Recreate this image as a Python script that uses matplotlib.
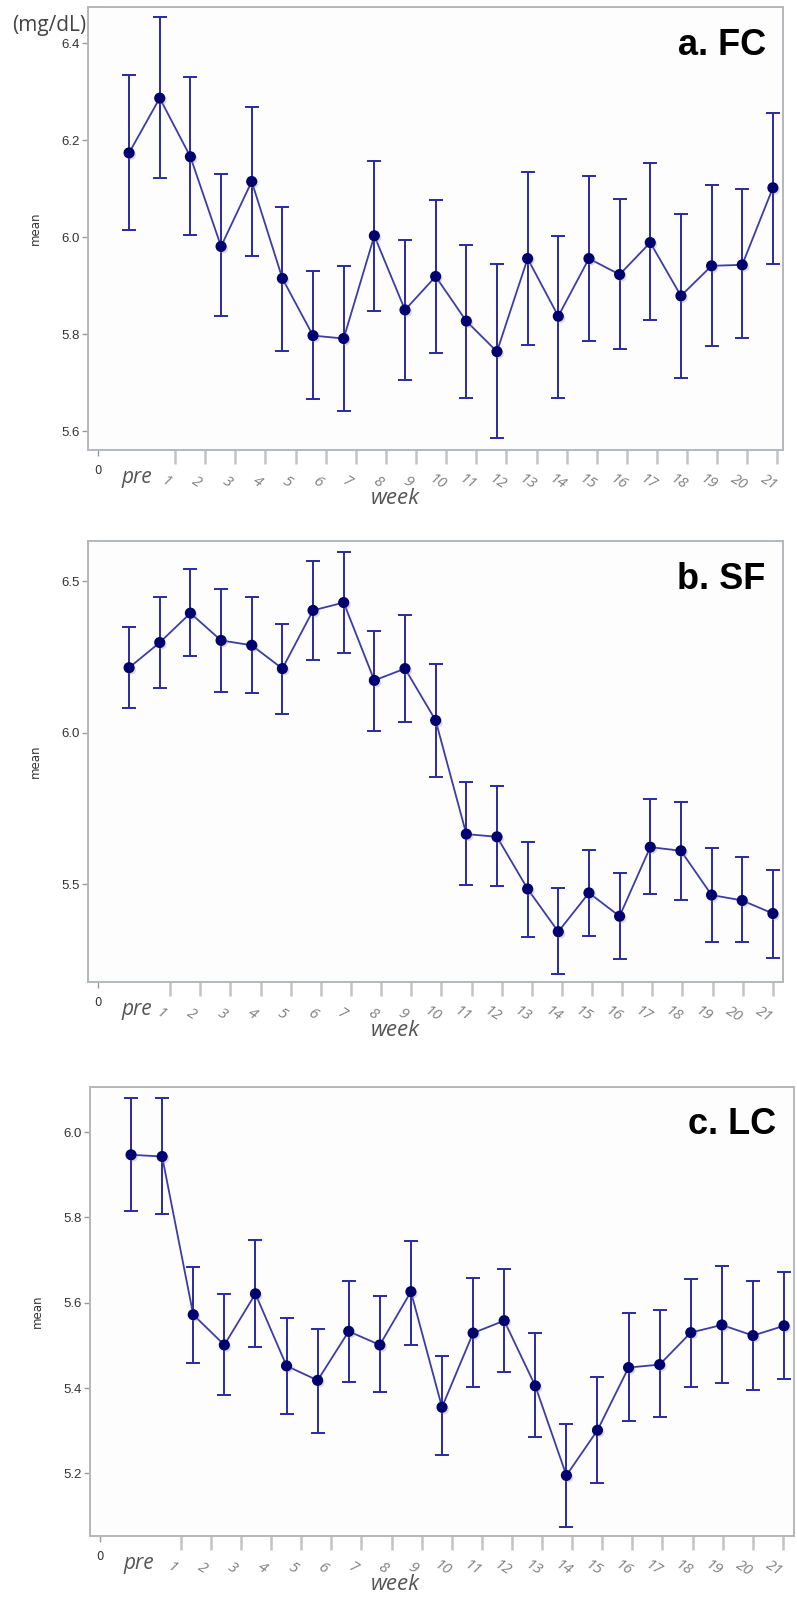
import numpy as np
import matplotlib
matplotlib.use("Agg")
import matplotlib.pyplot as plt
import matplotlib.patheffects as pe
from matplotlib.transforms import blended_transform_factory

# ---------------- data ----------------
categories = ["pre"] + [str(i) for i in range(1, 22)]

fc_mean = [6.174, 6.287, 6.166, 5.981, 6.115, 5.915, 5.797, 5.791, 6.003, 5.850, 5.919,
           5.827, 5.764, 5.956, 5.837, 5.956, 5.923, 5.989, 5.879, 5.941, 5.943, 6.102]
fc_upper = [6.335, 6.454, 6.330, 6.130, 6.268, 6.062, 5.930, 5.941, 6.158, 5.995, 6.077,
            5.984, 5.945, 6.134, 6.003, 6.126, 6.078, 6.153, 6.048, 6.108, 6.100, 6.257]
fc_lower = [6.014, 6.123, 6.005, 5.838, 5.962, 5.765, 5.666, 5.642, 5.848, 5.706, 5.762,
            5.669, 5.586, 5.778, 5.669, 5.786, 5.769, 5.829, 5.709, 5.775, 5.792, 5.944]

sf_mean = [6.214, 6.297, 6.394, 6.304, 6.288, 6.211, 6.403, 6.429, 6.172, 6.211, 6.040,
           5.665, 5.656, 5.484, 5.343, 5.471, 5.394, 5.622, 5.610, 5.464, 5.446, 5.403]
sf_upper = [6.348, 6.447, 6.541, 6.472, 6.447, 6.357, 6.567, 6.597, 6.334, 6.387, 6.227,
            5.836, 5.824, 5.639, 5.486, 5.612, 5.535, 5.780, 5.771, 5.618, 5.588, 5.546]
sf_lower = [6.082, 6.146, 6.254, 6.134, 6.130, 6.060, 6.241, 6.262, 6.005, 6.035, 5.852,
            5.498, 5.493, 5.326, 5.205, 5.329, 5.253, 5.467, 5.447, 5.309, 5.309, 5.257]

lc_mean = [5.947, 5.943, 5.572, 5.501, 5.621, 5.452, 5.418, 5.533, 5.501, 5.626, 5.355,
           5.529, 5.558, 5.405, 5.195, 5.301, 5.448, 5.455, 5.530, 5.548, 5.523, 5.546]
lc_upper = [6.080, 6.080, 5.683, 5.621, 5.748, 5.565, 5.539, 5.650, 5.615, 5.745, 5.474,
            5.659, 5.680, 5.529, 5.315, 5.427, 5.577, 5.584, 5.655, 5.687, 5.652, 5.672]
lc_lower = [5.816, 5.807, 5.458, 5.384, 5.496, 5.338, 5.294, 5.415, 5.390, 5.501, 5.242,
            5.402, 5.437, 5.285, 5.074, 5.177, 5.323, 5.331, 5.402, 5.412, 5.396, 5.422]

panel_titles = ["a. FC", "b. SF", "c. LC"]
fc_yticks = [5.6, 5.8, 6.0, 6.2, 6.4]
sf_yticks = [5.5, 6.0, 6.5]
lc_yticks = [5.2, 5.4, 5.6, 5.8, 6.0]
week_labels = [str(i) for i in range(1, 22)]

# ---------------- style ----------------
W, H = 797, 1597
fig = plt.figure(figsize=(W / 100, H / 100), dpi=100)
fig.patch.set_facecolor("white")

LINE_C = "#3c3ca6"
ERR_C = "#2a2aa0"
MARK_C = "#00006e"
SPINE_C = "#b4b8bc"

panels = [
    dict(box=(88, 7, 783, 450), mean=fc_mean, up=fc_upper, lo=fc_lower,
         ylim=(5.561, 6.475), yticks=fc_yticks,
         xlim=(-1.34, 21.33), wticks=(1.5, 21.15), title=panel_titles[0]),
    dict(box=(88, 541, 783, 982), mean=sf_mean, up=sf_upper, lo=sf_lower,
         ylim=(5.177, 6.632), yticks=sf_yticks,
         xlim=(-1.34, 21.33), wticks=(1.34, 21.0), title=panel_titles[1]),
    dict(box=(90, 1087, 794, 1536), mean=lc_mean, up=lc_upper, lo=lc_lower,
         ylim=(5.053, 6.106), yticks=lc_yticks,
         xlim=(-1.32, 21.32), wticks=(1.6, 20.96), title=panel_titles[2]),
]

x = np.arange(len(categories))

for p in panels:
    l, t, r, b = p["box"]
    ax = fig.add_axes([l / W, 1 - b / H, (r - l) / W, (b - t) / H])
    ax.set_facecolor("#fdfdfd")
    mean = np.array(p["mean"])
    up = np.array(p["up"])
    lo = np.array(p["lo"])

    ax.errorbar(x, mean, yerr=[mean - lo, up - mean], fmt="none", ecolor=ERR_C,
                elinewidth=1.4, capsize=5, capthick=1.4, zorder=2)
    ax.plot(x, mean, "-", color=LINE_C, lw=1.3, zorder=3)
    ax.plot(x, mean, "o", color=MARK_C, ms=7, mec=MARK_C, zorder=4,
            path_effects=[pe.SimplePatchShadow(offset=(1.5, -1.5), shadow_rgbFace="#999999", alpha=0.35),
                          pe.Normal()])

    ax.set_xlim(*p["xlim"])
    ax.set_ylim(*p["ylim"])

    # y axis
    ax.set_yticks(p["yticks"])
    ax.set_yticklabels(["{:.1f}".format(v) for v in p["yticks"]],
                       fontsize=9.5, color="#333333",
                       family=["Liberation Sans Narrow", "Liberation Sans", "DejaVu Sans"])
    ax.tick_params(axis="y", direction="out", length=4, width=1, color="#999999", pad=2)
    ax.set_ylabel("mean", fontsize=8.5, color="#333333", labelpad=14)

    for s in ax.spines.values():
        s.set_color(SPINE_C)
        s.set_linewidth(1.4)

    # x axis: week ticks (labels drawn as text so they can sit left of the marks)
    wt = np.linspace(p["wticks"][0], p["wticks"][1], len(week_labels))
    ax.set_xticks(wt)
    ax.set_xticklabels([])
    ax.tick_params(axis="x", direction="out", length=10, width=1.8, color="#c4c4c4", pad=2)
    ax.set_xticks([-1], minor=True)
    ax.set_xticklabels(["0"], minor=True, fontsize=8.5, color="#333333")
    ax.tick_params(axis="x", which="minor", direction="out", length=4, width=1, color="#999999", pad=6)

    trans = blended_transform_factory(ax.transData, ax.transAxes)
    lab_y = -32 / (b - t)
    for xi, lab in zip(wt, week_labels):
        ax.text(xi - 0.28, lab_y, lab, transform=trans, ha="center", va="center",
                rotation=-32, fontsize=11, color="#808080", fontstyle="italic",
                family=["Open Sans", "DejaVu Sans"])

    ax.text(0.25, -27 / (b - t), "pre", transform=trans, ha="center", va="center",
            fontsize=15, fontstyle="italic", color="#555555", family=["Open Sans", "DejaVu Sans"])
    ax.text((395 - l) / (r - l), -48 / (b - t), "week", transform=ax.transAxes, ha="center", va="center",
            fontsize=16, fontstyle="italic", color="#555555", family=["Open Sans", "DejaVu Sans"])

    ax.text(0.975, 1 - 38 / (b - t), p["title"], transform=ax.transAxes, ha="right", va="center",
            fontsize=26, fontweight="bold", color="black", family=["Liberation Sans", "DejaVu Sans"])

fig.text(12 / W, 1 - 25 / H, "(mg/dL)", ha="left", va="center", fontsize=15,
         color="#444444", family=["Open Sans", "DejaVu Sans"])

fig.savefig("out.png", dpi=100, facecolor="white")
